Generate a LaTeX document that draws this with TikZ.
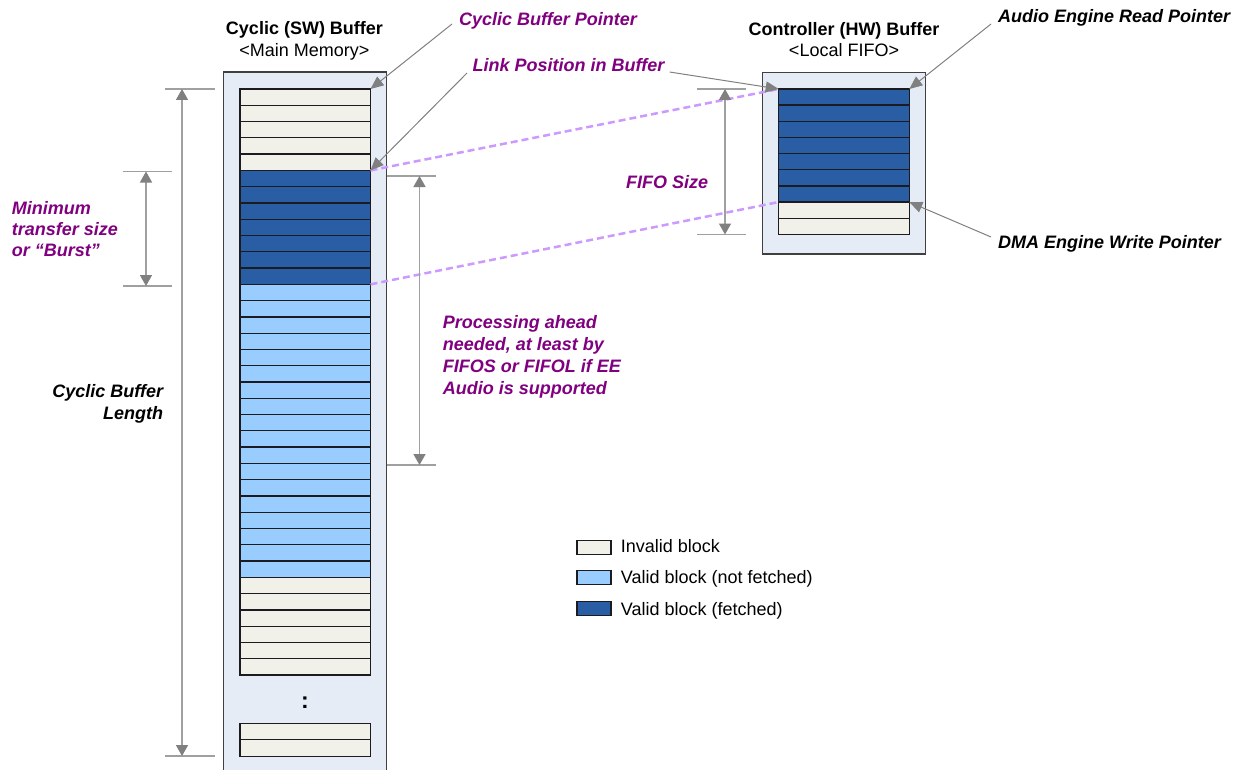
\documentclass[tikz,border=0pt]{standalone}
\usepackage{fontspec}
\setmainfont{Liberation Sans}
\usetikzlibrary{arrows.meta}
\definecolor{outerfill}{RGB}{229,236,246}
\definecolor{outerline}{RGB}{64,64,64}
\definecolor{blkline}{RGB}{28,28,32}
\definecolor{invfill}{RGB}{241,241,233}
\definecolor{valfill}{RGB}{153,204,255}
\definecolor{fetfill}{RGB}{41,94,165}
\definecolor{purp}{RGB}{128,0,128}
\definecolor{dashpurple}{RGB}{204,153,255}
\definecolor{ptrgray}{RGB}{128,128,128}
\definecolor{dimgray}{RGB}{160,160,160}
\definecolor{tipgray}{RGB}{128,128,128}
\begin{document}
\begin{tikzpicture}[x=1pt,y=-1pt,
  blk/.style={draw=blkline, line width=1.3pt, minimum width=130.5pt, minimum height=16.28pt, inner sep=0pt, outer sep=0pt, anchor=north west},
  inv/.style={blk, fill=invfill},
  val/.style={blk, fill=valfill},
  fet/.style={blk, fill=fetfill},
  outerbox/.style={draw=outerline, line width=1.5pt, fill=outerfill, inner sep=0pt, outer sep=0pt},
  ttl/.style={font=\fontsize{18}{21}\selectfont\bfseries, inner sep=0pt},
  sub/.style={font=\fontsize{18}{21}\selectfont, inner sep=0pt},
  plbl/.style={font=\fontsize{18}{21}\selectfont\bfseries\itshape, text=purp, inner sep=0pt},
  blbl/.style={font=\fontsize{18}{22}\selectfont\bfseries\itshape, text=black, inner sep=0pt},
  ptr/.style={draw=ptrgray, line width=1pt, -{Triangle[length=13pt,width=11pt]}},
  dimarrow/.style={draw=dimgray, line width=1.5pt, {Triangle[length=11pt,width=12pt,color=tipgray]}-{Triangle[length=11pt,width=12pt,color=tipgray]}},
  tickline/.style={draw=dimgray, line width=1.5pt},
  linkline/.style={draw=dashpurple, line width=2.5pt, dash pattern=on 7pt off 4pt}
]
\useasboundingbox (0,0) rectangle (1238,770);

% ---- left (SW) buffer ----
\fill[outerfill] (223.3,72) rectangle (386.7,771);
\draw[outerline, line width=1.5pt] (223.3,771) -- (223.3,72) -- (386.7,72) -- (386.7,771);
\foreach \i in {1,...,5} {\node[inv] (L\i) at (240,{89+(\i-1)*16.278}) {};}
\foreach \i in {6,...,12} {\node[fet] (L\i) at (240,{89+(\i-1)*16.278}) {};}
\foreach \i in {13,...,30} {\node[val] (L\i) at (240,{89+(\i-1)*16.278}) {};}
\foreach \i in {31,...,36} {\node[inv] (L\i) at (240,{89+(\i-1)*16.278}) {};}
\node[inv, minimum height=16.5pt] (LB1) at (240,723.3) {};
\node[inv, minimum height=16.5pt] (LB2) at (240,739.8) {};
\node[ttl, font=\fontsize{23}{26}\selectfont\bfseries, anchor=base] (dots) at (305,708) {:};

% ---- right (HW) buffer ----
\node[outerbox, minimum width=163.4pt, minimum height=181.3pt, anchor=north west] (rbuf) at (762.3,72.7) {};
\foreach \i in {1,...,7} {\node[fet, minimum width=130.6pt, minimum height=16.15pt] (R\i) at (778.7,{89+(\i-1)*16.15}) {};}
\foreach \i in {8,9} {\node[inv, minimum width=130.6pt, minimum height=16.15pt] (R\i) at (778.7,{89+(\i-1)*16.15}) {};}

% ---- titles ----
\node[ttl, anchor=base] (swt) at (304.5,35) {Cyclic (SW) Buffer};
\node[sub, anchor=base] (swm) at (304.5,56.5) {<Main Memory>};
\node[ttl, anchor=base] (hwt) at (844,36) {Controller (HW) Buffer};
\node[sub, anchor=base] (hwm) at (844,57) {<Local FIFO>};

% ---- labels ----
\node[plbl, anchor=base west] (cbp) at (459,26) {Cyclic Buffer Pointer};
\node[plbl, anchor=base west] (lpb) at (472.5,72) {Link Position in Buffer};
\node[plbl, anchor=base west] (fifo) at (626,189) {FIFO Size};
\node[plbl, anchor=north west, align=left] (mts) at (11.7,201.7) {Minimum\\transfer size\\or “Burst”};
\node[plbl, anchor=north west, align=left, font=\fontsize{18}{22}\selectfont\bfseries\itshape] (pan) at (442.7,315) {Processing ahead\\needed, at least by\\FIFOS or FIFOL if EE\\Audio is supported};
\node[blbl, anchor=north east, align=right] (cbl) at (163.3,383.8) {Cyclic Buffer\\Length};
\node[blbl, anchor=base west] (aer) at (998,23) {Audio Engine Read Pointer};
\node[blbl, anchor=base west] (dma) at (998,248) {DMA Engine Write Pointer};

% ---- dashed links ----
\draw[linkline] (L6.north east) -- (R1.north west);
\draw[linkline] (L13.north east) -- (R8.north west);

% ---- pointers ----
\draw[ptr] ([xshift=-7pt,yshift=2pt]cbp.base west) -- (L1.north east);
\draw[ptr] ([xshift=-5.5pt,yshift=-1pt]lpb.base west) -- (L6.north east);
\draw[ptr] ([xshift=5pt]lpb.base east) -- (R1.north west);
\draw[ptr] ([xshift=-7pt,yshift=-1pt]aer.base west) -- (R1.north east);
\draw[ptr] ([xshift=-7pt,yshift=11pt]dma.base west) -- (R8.north east);

% ---- dimension lines ----
\draw[tickline] (165,89) -- (215,89);
\draw[tickline] (165,756) -- (215,756);
\coordinate (cbla) at (182,89);
\coordinate (cblb) at (182,756);
\draw[dimarrow] (cbla) -- (cblb);

\draw[tickline] (123,171.5) -- (172,171.5);
\draw[tickline] (123,286) -- (172,286);
\coordinate (mtsa) at (146,171.5);
\coordinate (mtsb) at (146,286);
\draw[dimarrow] (mtsa) -- (mtsb);

\draw[tickline] (387,176) -- (436,176);
\draw[tickline] (387,465) -- (436,465);
\coordinate (pana) at (419.5,176);
\coordinate (panb) at (419.5,465);
\draw[dimarrow] (pana) -- (panb);

\draw[tickline] (697,89) -- (746,89);
\draw[tickline] (697,234.5) -- (746,234.5);
\coordinate (ffa) at (725,89);
\coordinate (ffb) at (725,234.5);
\draw[dimarrow] (ffa) -- (ffb);

% ---- legend ----
\node[inv, line width=1.2pt, minimum width=34pt, minimum height=13.5pt, anchor=center] (k1) at (594,547.5) {};
\node[val, line width=1.2pt, minimum width=34pt, minimum height=13.5pt, anchor=center] (k2) at (594,577.5) {};
\node[fet, line width=1.2pt, minimum width=34pt, minimum height=13.5pt, anchor=center] (k3) at (594,608.5) {};
\node[sub, anchor=base west] (k1t) at (620.7,552) {Invalid block};
\node[sub, anchor=base west] (k2t) at (620.7,583.5) {Valid block (not fetched)};
\node[sub, anchor=base west] (k3t) at (620.7,615) {Valid block (fetched)};
\end{tikzpicture}
\end{document}
